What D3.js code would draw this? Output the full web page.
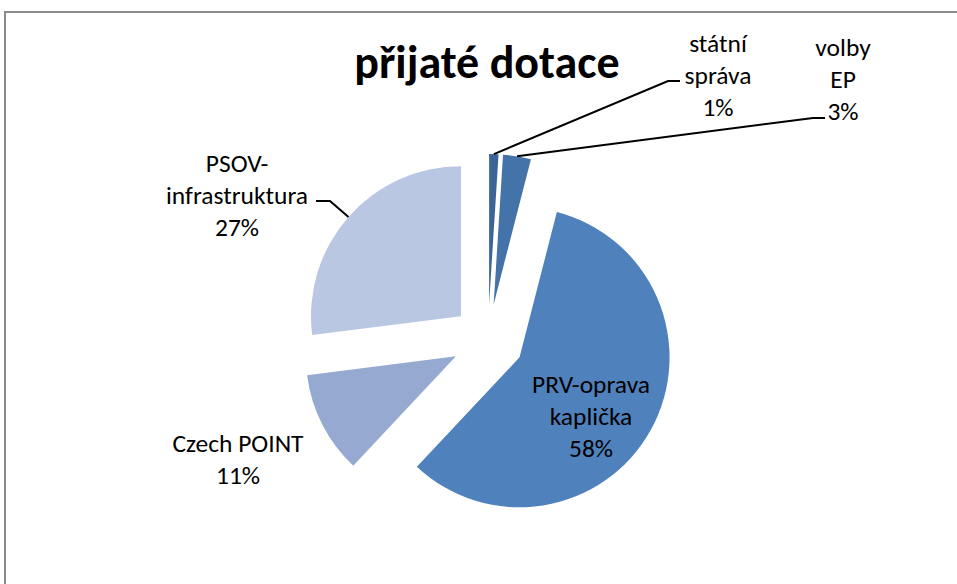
<!DOCTYPE html>
<html>
<head>
<meta charset="utf-8">
<script src="https://cdn.jsdelivr.net/npm/d3@7"></script>
<style>
  body { margin: 0; background: #fff; }
  svg { display: block; }
  text { font-family: Carlito, Lato, sans-serif; fill: #000; }
</style>
</head>
<body>
<script>
// data, clockwise from 12 o'clock
const categories = ['státní správa', 'volby EP', 'PRV-oprava kaplička', 'Czech POINT', 'PSOV-infrastruktura']
const values = [1, 3, 58, 11, 27]
const labelLines = [
  ['státní', 'správa', '1%'],
  ['volby', 'EP', '3%'],
  ['PRV-oprava', 'kaplička', '58%'],
  ['Czech POINT', '11%'],
  ['PSOV-', 'infrastruktura', '27%']
]
const colors = ['#3b6497', '#4473aa', '#4f81bd', '#95a9d1', '#b9c7e2']

// layout
const W = 957, H = 584
const cx = 488, cy = 340
const radius = 150, explode = 36
const labelPos = [
  { x: 718, y: 52, leader: [668, 81, 680] },
  { x: 843, y: 56, leader: [813, 118, 825] },
  { x: 591, y: 393 },
  { x: 238, y: 452 },
  { x: 237, y: 172, leader: [330, 201, 316] }
]
const lineGap = 32

const svg = d3.select('body').append('svg').attr('width', W).attr('height', H)

svg.append('rect')
  .attr('x', 5).attr('y', 12)
  .attr('width', W + 10).attr('height', H + 10)
  .attr('fill', '#fff')
  .attr('stroke', '#8a8a8a')
  .attr('stroke-width', 2)

svg.append('text')
  .attr('x', 487).attr('y', 78)
  .attr('text-anchor', 'middle')
  .attr('font-weight', 'bold')
  .attr('font-size', 46)
  .text('přijaté dotace')

const pie = d3.pie().sort(null).value(d => d)
const arcs = pie(values)
const arc = d3.arc().innerRadius(0).outerRadius(radius)

const dir = d => {
  const a = (d.startAngle + d.endAngle) / 2
  return [Math.sin(a), -Math.cos(a)]
}

const g = svg.append('g').attr('transform', `translate(${cx},${cy})`)

g.selectAll('path')
  .data(arcs)
  .join('path')
  .attr('d', arc)
  .attr('fill', (d, i) => colors[i])
  .attr('transform', d => {
    const [dx, dy] = dir(d)
    return `translate(${dx * explode},${dy * explode})`
  })

// leader lines
arcs.forEach((d, i) => {
  const p = labelPos[i]
  if (!p.leader) return
  const [dx, dy] = dir(d)
  const sx = cx + dx * (explode + radius), sy = cy + dy * (explode + radius)
  const [lx, ly, ex] = p.leader
  svg.append('path')
    .attr('d', d3.line()([[sx, sy], [lx, ly], [ex, ly]]))
    .attr('fill', 'none')
    .attr('stroke', '#000')
    .attr('stroke-width', 2)
})

// labels
labelLines.forEach((lines, i) => {
  const p = labelPos[i]
  const t = svg.append('text')
    .attr('text-anchor', 'middle')
    .attr('font-size', 25.5)
  t.selectAll('tspan')
    .data(lines)
    .join('tspan')
    .attr('x', p.x)
    .attr('y', (d, j) => p.y + j * lineGap)
    .text(d => d)
})
</script>
</body>
</html>
